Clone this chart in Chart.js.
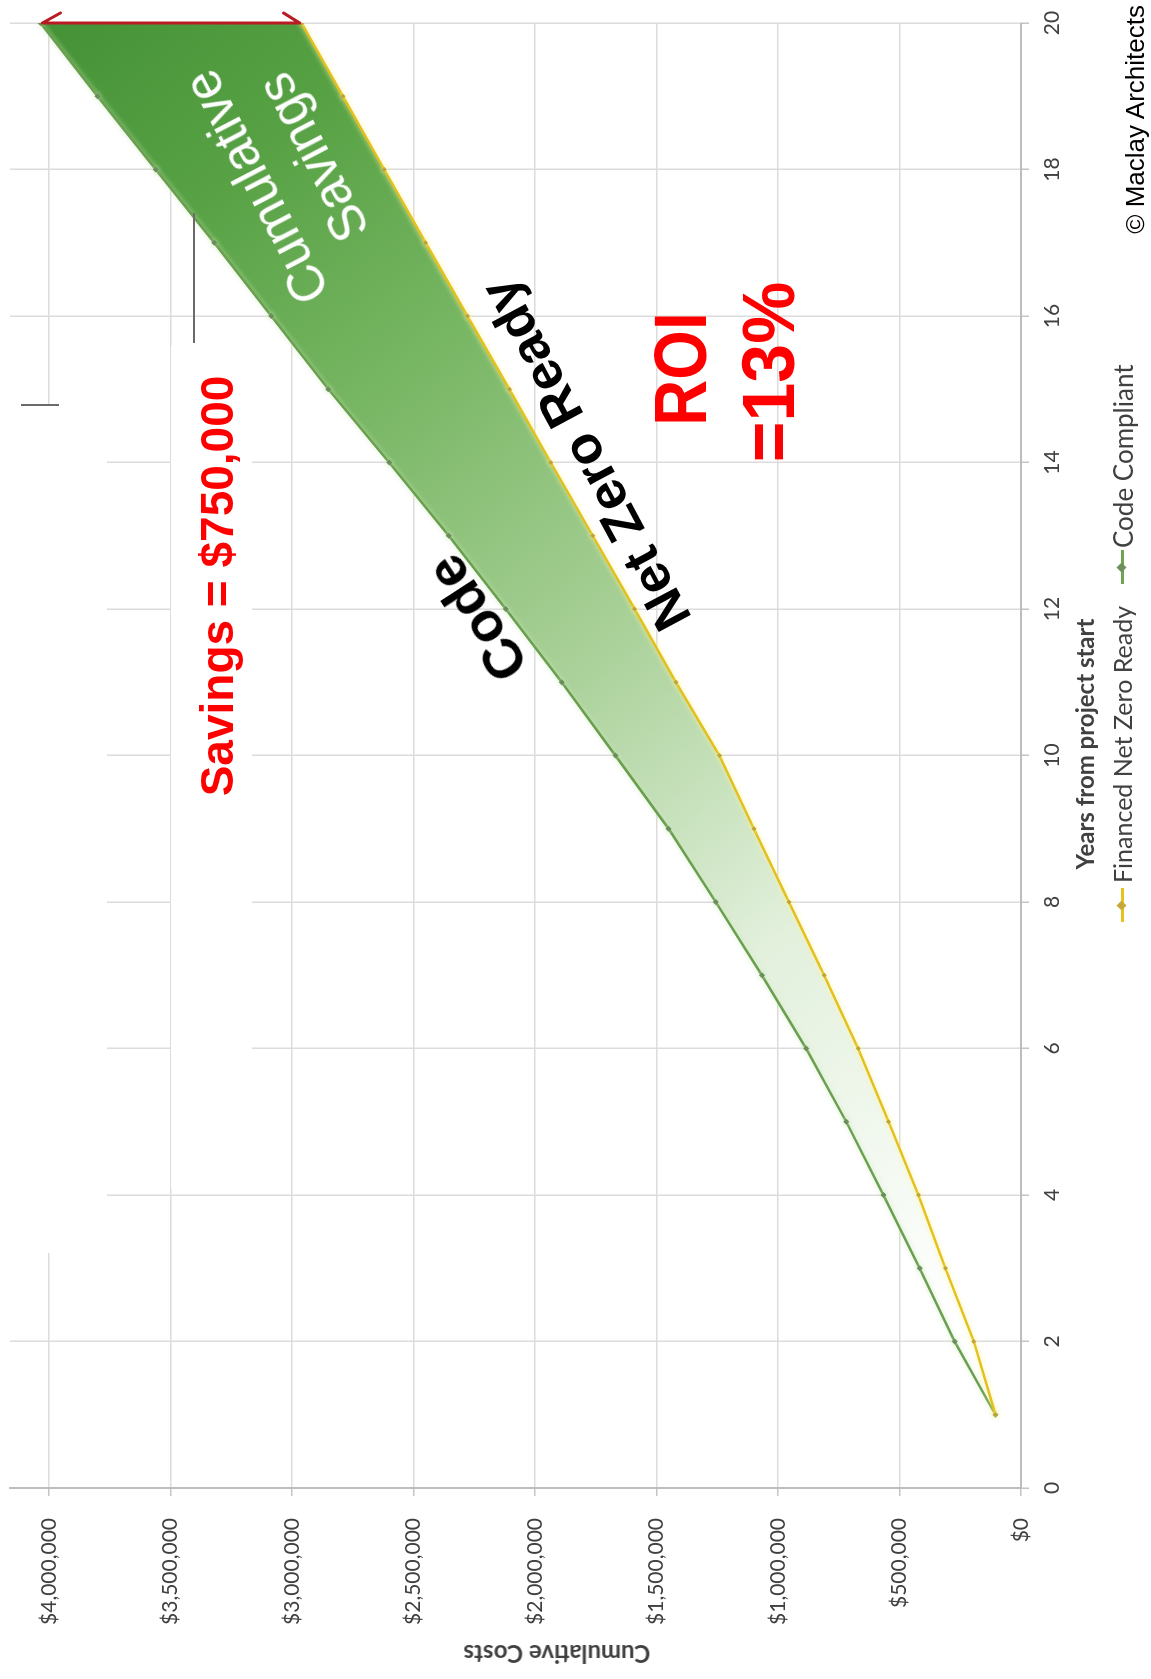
<!DOCTYPE html>
<html>
<head>
<meta charset="utf-8">
<title>Cumulative Costs – Code Compliant vs Financed Net Zero Ready</title>
<script src="https://cdn.jsdelivr.net/npm/chart.js@4.4.1/dist/chart.umd.min.js"></script>
<style>
  html, body { margin: 0; padding: 0; background: #fff; overflow: hidden; }
  body { width: 1151px; height: 1679px; position: relative; }
  /* The chart is laid out landscape and turned a quarter turn counter-clockwise */
  #stage {
    position: absolute; left: 0; top: 0;
    width: 1679px; height: 1151px;
    transform-origin: 0 0;
    transform: translateY(1679px) rotate(-90deg);
    background: #fff;
  }
  #chart { position: absolute; left: 0; top: 0; filter: blur(0.5px); }
  .t { position: absolute; white-space: nowrap; line-height: 1; }
  .ctr { transform: translate(-50%, -50%); }
  .axis-title { font-family: Lato, "Open Sans", sans-serif; font-weight: bold; font-size: 24px; color: #404040; }
  .legend-item { position: absolute; font-family: Lato, "Open Sans", sans-serif; font-size: 25px; color: #404040; white-space: nowrap; line-height: 1; }
  .swatch { position: absolute; width: 34px; height: 3px; }
  .swatch i { position: absolute; left: 13px; top: -3px; width: 7px; height: 7px; transform: rotate(45deg); }
  .red { color: #ff0000; font-family: "Liberation Sans", Arial, sans-serif; font-weight: bold; }
  .ink { color: #000; font-family: "Liberation Sans", Arial, sans-serif; font-weight: bold; }
  .blank { position: absolute; background: #fff; }
</style>
</head>
<body>
<div id="stage">
  <canvas id="chart" width="1679" height="1151"></canvas>

  <!-- white panels behind the savings note -->
  <div class="blank" style="left:426px; top:0px; width:848px; height:107px;"></div>
  <div class="blank" style="left:491px; top:171px; width:842px; height:81px;"></div>
  <div style="position:absolute; left:1336px; top:193px; width:130px; height:2px; background:#6b6b6b;"></div>
  <div style="position:absolute; left:1273px; top:21px; width:2px; height:38px; background:#6b6b6b;"></div>

  <div class="t axis-title" style="left:25px; top:557px; transform: translate(-50%,-50%) rotate(-90deg);">Cumulative Costs</div>
  <div class="t axis-title ctr" style="left:935px; top:1085px;">Years from project start</div>

  <div class="legend-item" style="left:796px; top:1110px;">Financed Net Zero Ready</div>
  <div class="swatch" style="left:757px; top:1121px; background:#e5c21f;"><i style="background:#c9a93a;"></i></div>
  <div class="legend-item" style="left:1131px; top:1110px; font-size:26px;">Code Compliant</div>
  <div class="swatch" style="left:1095px; top:1121px; background:#6ea452;"><i style="background:#6e8f5c;"></i></div>

  <div class="t red ctr" style="left:1093px; top:217px; font-size:46px;">Savings = $750,000</div>
  <div class="t red" style="left:1310px; top:680px; font-size:75px; transform: translate(-50%,-50%) scaleX(0.85);">ROI</div>
  <div class="t red" style="left:1307px; top:768px; font-size:75px; transform: translate(-50%,-50%) scaleX(0.93);">=13%</div>

  <div class="t ink" style="left:1224px; top:585px; font-size:53px; transform: translate(-50%,-50%) rotate(-28deg);">Net Zero Ready</div>
  <div class="t ink" style="left:1061px; top:477px; font-size:55px; transform: translate(-50%,-50%) rotate(-33deg);">Code</div>

  <div class="t" style="left:1507px; top:285px; font-family:'Liberation Sans', Arial, sans-serif; font-size:51px; line-height:64px; color:#fff; text-align:center; transform: translate(-50%,-50%) rotate(-27.5deg);">Cumulative<br>Savings</div>

  <div class="t" style="right:5px; top:1122px; font-family:'Liberation Sans', Arial, sans-serif; font-size:26px; color:#000;">© Maclay Architects</div>
</div>

<script>
// Years from project start
const years = [1, 2, 3, 4, 5, 6, 7, 8, 9, 10, 11, 12, 13, 14, 15, 16, 17, 18, 19, 20];

// Cumulative costs ($) per year
const netZeroReadyCost = [105000, 194000, 311000, 422000, 545000, 670000, 810000, 955000, 1099000, 1241000,
                          1420000, 1590000, 1762000, 1935000, 2105000, 2278000, 2450000, 2620000, 2790000, 2960000];
const codeCompliantCost = [105000, 273000, 417000, 566000, 719000, 884000, 1066000, 1256000, 1450000, 1669000,
                           1890000, 2120000, 2355000, 2600000, 2850000, 3085000, 3320000, 3560000, 3800000, 4035000];

const seriesNames = ['Financed Net Zero Ready', 'Code Compliant'];

// Axis ticks
const yearTicks = [0, 2, 4, 6, 8, 10, 12, 14, 16, 18, 20];
const costTicks = [0, 500000, 1000000, 1500000, 2000000, 2500000, 3000000, 3500000, 4000000];

const toPoints = (xs, ys) => xs.map((x, i) => ({ x: x, y: ys[i] }));

// Green wash between the two curves, deepening toward later years and higher cost
function savingsFill(context) {
  const chart = context.chart;
  const area = chart.chartArea;
  if (!area) return 'rgba(0,0,0,0)';
  const xs = chart.scales.x, ys = chart.scales.y;
  const g = chart.ctx.createLinearGradient(
    xs.getPixelForValue(3), ys.getPixelForValue(0),
    xs.getPixelForValue(20), ys.getPixelForValue(4000000)
  );
  g.addColorStop(0.00, '#ffffff');
  g.addColorStop(0.26, '#e2f0dc');
  g.addColorStop(0.48, '#a8d097');
  g.addColorStop(0.68, '#79b765');
  g.addColorStop(0.85, '#58a245');
  g.addColorStop(1.00, '#459236');
  return g;
}

// Soft halo behind each series line
const glowPlugin = {
  id: 'lineGlow',
  beforeDatasetDraw(chart, args) {
    const ctx = chart.ctx;
    ctx.save();
    ctx.shadowColor = args.index === 0 ? 'rgba(255,245,150,0.95)' : 'rgba(205,235,185,0.8)';
    ctx.shadowBlur = 5;
  },
  afterDatasetDraw(chart) {
    chart.ctx.restore();
  }
};

// Red dimension arrow spanning the final-year gap between the two curves
const savingsArrow = {
  id: 'savingsArrow',
  afterDatasetsDraw(chart) {
    const last = years.length - 1;
    const xs = chart.scales.x, ys = chart.scales.y;
    const x = xs.getPixelForValue(years[last]);
    const yTop = ys.getPixelForValue(codeCompliantCost[last]);
    const yBot = ys.getPixelForValue(netZeroReadyCost[last]);
    const ctx = chart.ctx;
    ctx.save();
    ctx.strokeStyle = '#b81c22';
    ctx.lineWidth = 3;
    ctx.lineCap = 'round';
    ctx.beginPath();
    ctx.moveTo(x, yTop + 2);
    ctx.lineTo(x, yBot - 2);
    // outward half-heads
    ctx.moveTo(x, yTop + 2);
    ctx.lineTo(x + 10, yTop + 20);
    ctx.moveTo(x, yBot - 2);
    ctx.lineTo(x + 10, yBot - 18);
    ctx.stroke();
    ctx.restore();
  }
};

const tickFont = { family: 'Lato, "Open Sans", sans-serif', size: 21 };

new Chart(document.getElementById('chart'), {
  type: 'line',
  data: {
    datasets: [
      {
        label: seriesNames[0],
        data: toPoints(years, netZeroReadyCost),
        borderColor: '#e3c020',
        borderWidth: 2.5,
        pointStyle: 'rectRot',
        pointRadius: 2.5,
        pointBackgroundColor: '#bfa23a',
        pointBorderColor: '#bfa23a',
        pointBorderWidth: 0,
        tension: 0,
        fill: false
      },
      {
        label: seriesNames[1],
        data: toPoints(years, codeCompliantCost),
        borderColor: '#6a9f50',
        borderWidth: 2.5,
        pointStyle: 'rectRot',
        pointRadius: 3,
        pointBackgroundColor: '#6b8d5b',
        pointBorderColor: '#6b8d5b',
        pointBorderWidth: 0,
        tension: 0,
        fill: '-1',
        backgroundColor: savingsFill
      }
    ]
  },
  options: {
    responsive: false,
    animation: false,
    devicePixelRatio: 1,
    layout: { padding: { left: 0, right: 23, top: 10, bottom: 0 } },
    plugins: {
      legend: { display: false },
      tooltip: { enabled: false }
    },
    scales: {
      x: {
        type: 'linear',
        min: 0,
        max: 20,
        afterFit(scale) {
          scale.height = 130;
          scale.paddingLeft = 0;
          scale.paddingRight = 0;
        },
        afterBuildTicks(scale) { scale.ticks = yearTicks.map(v => ({ value: v })); },
        ticks: { font: tickFont, color: '#404040', padding: 11 },
        grid: { color: '#dcdcdc', lineWidth: 1.5, tickLength: 8, tickColor: '#c4c4c4' },
        border: { color: '#bdbdbd', width: 2 }
      },
      y: {
        type: 'linear',
        min: 0,
        max: 4160000,
        afterFit(scale) {
          scale.width = 191;
          scale.paddingTop = 0;
          scale.paddingBottom = 0;
        },
        afterBuildTicks(scale) { scale.ticks = costTicks.map(v => ({ value: v })); },
        ticks: {
          font: tickFont,
          color: '#404040',
          padding: 22,
          callback: v => '$' + Number(v).toLocaleString('en-US')
        },
        grid: { color: '#dcdcdc', lineWidth: 1.5, tickLength: 8, tickColor: '#c4c4c4' },
        border: { color: '#bdbdbd', width: 2 }
      }
    }
  },
  plugins: [glowPlugin, savingsArrow]
});
</script>
</body>
</html>
